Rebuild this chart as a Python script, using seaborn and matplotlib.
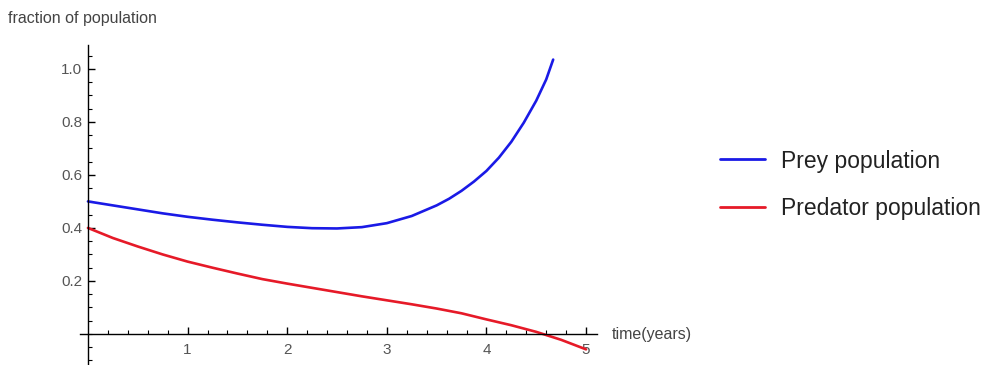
import numpy as np
import pandas as pd
import matplotlib
matplotlib.use("Agg")
import matplotlib.pyplot as plt
import seaborn as sns

# data
prey_t = [0.0, 0.25, 0.5, 0.75, 1.0, 1.25, 1.5, 1.75, 2.0, 2.25, 2.5, 2.75,
          3.0, 3.25, 3.5, 3.625, 3.75, 3.875, 4.0, 4.125, 4.25, 4.375, 4.5,
          4.6, 4.67]
prey_v = [0.500, 0.485, 0.470, 0.455, 0.442, 0.431, 0.421, 0.412, 0.404, 0.399,
          0.398, 0.403, 0.418, 0.445, 0.485, 0.510, 0.540, 0.575, 0.615, 0.665,
          0.725, 0.797, 0.880, 0.960, 1.035]
pred_t = [0.0, 0.25, 0.5, 0.75, 1.0, 1.25, 1.5, 1.75, 2.0, 2.25, 2.5, 2.75,
          3.0, 3.25, 3.5, 3.75, 4.0, 4.25, 4.5, 4.75, 5.0]
pred_v = [0.400, 0.362, 0.330, 0.300, 0.273, 0.250, 0.228, 0.207, 0.190, 0.174,
          0.158, 0.142, 0.127, 0.112, 0.096, 0.078, 0.055, 0.033, 0.008, -0.022,
          -0.058]
x_ticks = [1, 2, 3, 4, 5]
y_ticks = [0.2, 0.4, 0.6, 0.8, 1.0]
series_names = ["Prey population", "Predator population"]

df = pd.concat([
    pd.DataFrame({"t": prey_t, "v": prey_v, "series": series_names[0]}),
    pd.DataFrame({"t": pred_t, "v": pred_v, "series": series_names[1]}),
])

sns.set_style("white")
plt.rcParams["font.family"] = ["Liberation Sans", "DejaVu Sans"]

W, H = 1003, 365
fig = plt.figure(figsize=(W / 100, H / 100), dpi=100)
# axes pixel box: x 80..597, y 45..365
ax = fig.add_axes([80 / W, 0, (597 - 80) / W, (365 - 45) / H])

sns.lineplot(data=df, x="t", y="v", hue="series",
             palette={series_names[0]: "#1a1ae6", series_names[1]: "#e61a28"},
             linewidth=1.9, ax=ax, legend=True, sort=False)

ax.set_xlim(-0.08, 5.11)
ax.set_ylim(-0.117, 1.09)

for s in ["top", "right"]:
    ax.spines[s].set_visible(False)
ax.spines["left"].set_position(("data", 0))
ax.spines["bottom"].set_position(("data", 0))
for s in ["left", "bottom"]:
    ax.spines[s].set_color("black")
    ax.spines[s].set_linewidth(1.0)

ax.set_xticks(x_ticks)
ax.set_xticklabels([str(v) for v in x_ticks])
ax.set_yticks(y_ticks)
ax.set_yticklabels([f"{v:.1f}" for v in y_ticks])
ax.set_xticks(np.arange(0.2, 5.01, 0.2), minor=True)
ax.set_yticks(np.arange(-0.1, 1.07, 0.05), minor=True)
ax.tick_params(axis="x", which="both", bottom=True, top=False)
ax.tick_params(axis="y", which="both", left=True, right=False)
ax.tick_params(axis="both", which="major", direction="in", length=5, width=1,
               color="black", labelsize=11, labelcolor="#555555")
ax.tick_params(axis="x", which="major", pad=6.5)
ax.tick_params(axis="y", which="major", pad=4)
ax.tick_params(axis="both", which="minor", direction="in", length=3, width=0.8,
               color="black")
ax.set_xlabel("")
ax.set_ylabel("")

fig.text(8 / W, 1 - 18 / H, "fraction of population", fontsize=11.5,
         color="#444444", ha="left", va="center")
fig.text(612 / W, 1 - 334 / H, "time(years)", fontsize=11.5,
         color="#444444", ha="left", va="center")

handles, labels = ax.get_legend_handles_labels()
ax.legend_.remove()
for h in handles:
    h.set_linewidth(2.0)
fig.legend(handles, labels, loc="center left",
           bbox_to_anchor=(699 / W, 1 - 185 / H), frameon=False,
           fontsize=16.5, handlelength=1.96, handletextpad=0.74,
           labelspacing=1.09, labelcolor="#222222")

fig.savefig("out.png", dpi=100)
